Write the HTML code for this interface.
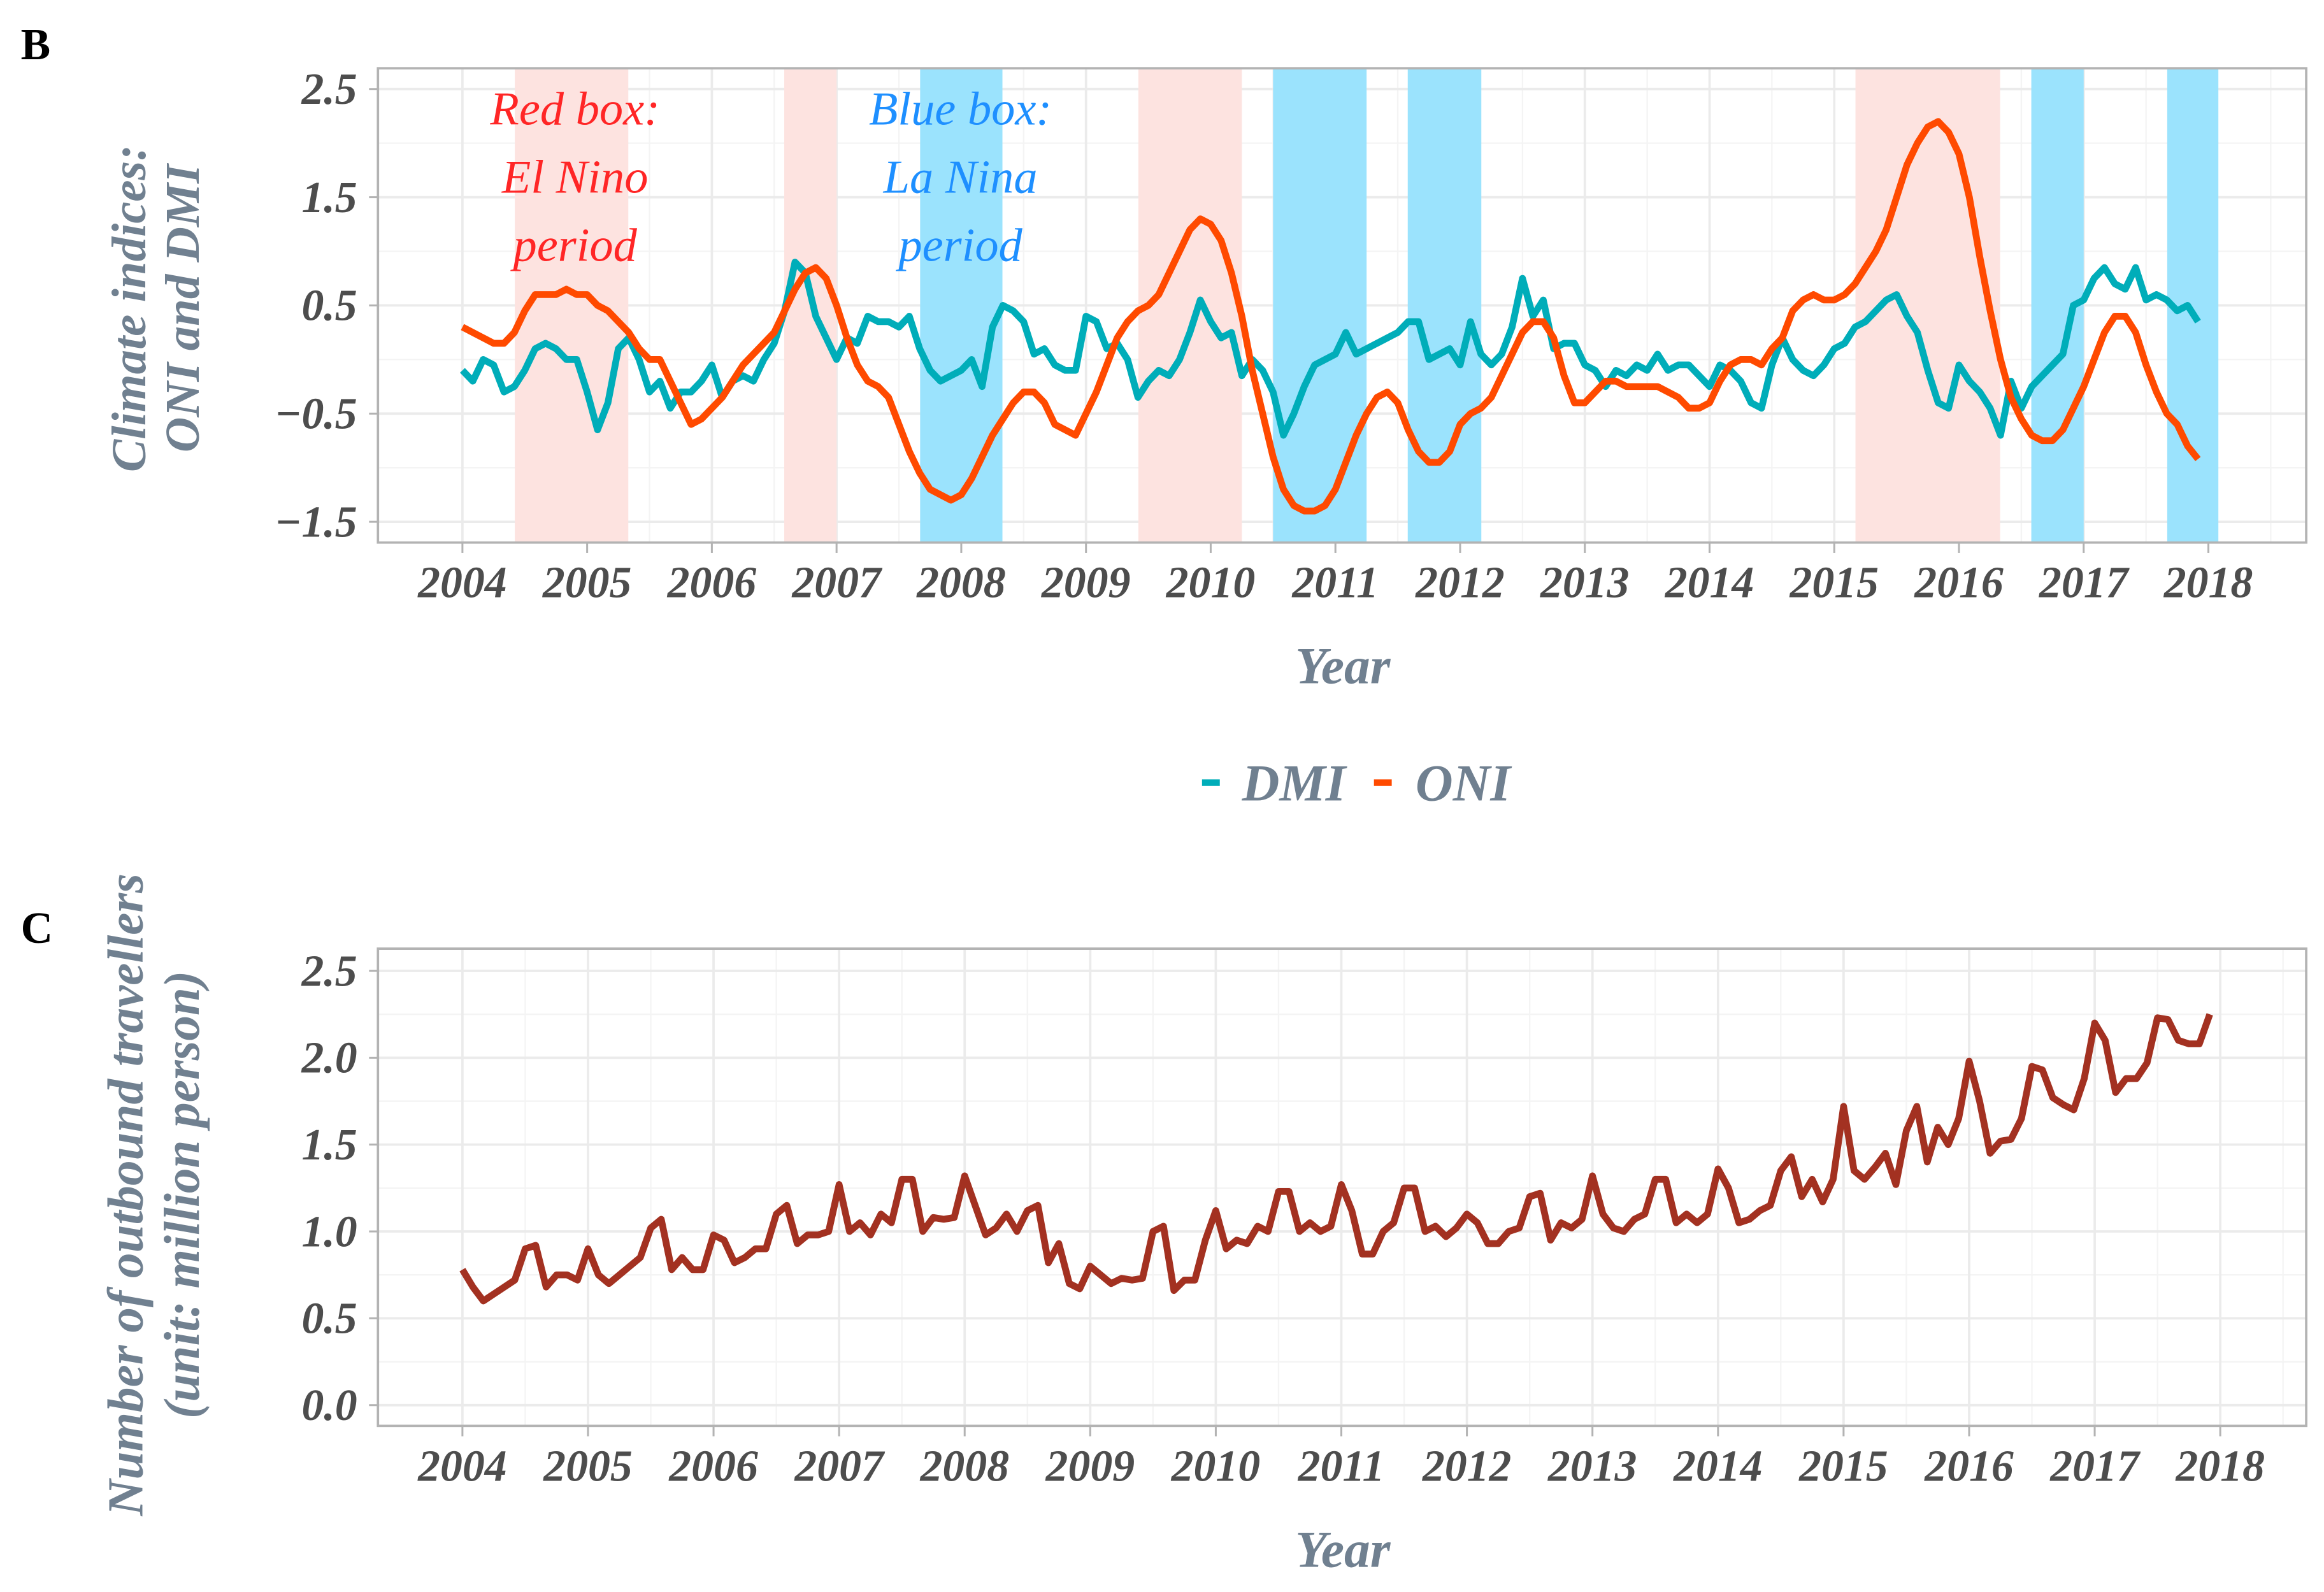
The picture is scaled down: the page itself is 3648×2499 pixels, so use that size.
<!DOCTYPE html>
<html><head><meta charset="utf-8"><style>
html,body{margin:0;padding:0;background:#fff;}
svg{display:block;}
text{font-family:"Liberation Serif",serif;}
</style></head><body>
<svg id="fig" xmlns="http://www.w3.org/2000/svg" width="3648" height="2499" viewBox="0 0 1568 1074">
<rect x="0" y="0" width="1568" height="1074" fill="#fff"/>
<text x="14" y="40" font-size="30" font-weight="bold">B</text>
<text x="14" y="636" font-size="30" font-weight="bold">C</text>
<g id="pb"></g>
<g id="pc"></g>
</svg>
<script>
const years = [2004,2005,2006,2007,2008,2009,2010,2011,2012,2013,2014,2015,2016,2017,2018];
const climateTicks = [2.5,1.5,0.5,-0.5,-1.5];
const travTicks = [2.5,2.0,1.5,1.0,0.5,0.0];
const elNinoPeriods = [[2004.42,2005.33],[2006.58,2007.0],[2009.42,2010.25],[2015.17,2016.33]];
const laNinaPeriods = [[2007.67,2008.33],[2010.5,2011.25],[2011.58,2012.17],[2016.58,2017.0],[2017.67,2018.08]];
const oni = [0.3,0.25,0.2,0.15,0.15,0.25,0.45,0.6,0.6,0.6,0.65,0.6,
0.6,0.5,0.45,0.35,0.25,0.1,0.0,0.0,-0.2,-0.4,-0.6,-0.55,
-0.45,-0.35,-0.2,-0.05,0.05,0.15,0.25,0.45,0.65,0.8,0.85,0.75,
0.5,0.2,-0.05,-0.2,-0.25,-0.35,-0.6,-0.85,-1.05,-1.2,-1.25,-1.3,
-1.25,-1.1,-0.9,-0.7,-0.55,-0.4,-0.3,-0.3,-0.4,-0.6,-0.65,-0.7,
-0.5,-0.3,-0.05,0.2,0.35,0.45,0.5,0.6,0.8,1.0,1.2,1.3,
1.25,1.1,0.8,0.4,-0.1,-0.5,-0.9,-1.2,-1.35,-1.4,-1.4,-1.35,
-1.2,-0.95,-0.7,-0.5,-0.35,-0.3,-0.4,-0.65,-0.85,-0.95,-0.95,-0.85,
-0.6,-0.5,-0.45,-0.35,-0.15,0.05,0.25,0.35,0.35,0.2,-0.15,-0.4,
-0.4,-0.3,-0.2,-0.2,-0.25,-0.25,-0.25,-0.25,-0.3,-0.35,-0.45,-0.45,
-0.4,-0.2,-0.05,0.0,0.0,-0.05,0.1,0.2,0.45,0.55,0.6,0.55,
0.55,0.6,0.7,0.85,1.0,1.2,1.5,1.8,2.0,2.15,2.2,2.1,
1.9,1.5,0.95,0.45,0.0,-0.35,-0.55,-0.7,-0.75,-0.75,-0.65,-0.45,
-0.25,0.0,0.25,0.4,0.4,0.25,-0.05,-0.3,-0.5,-0.6,-0.8,-0.92];
const dmi = [-0.1,-0.2,0.0,-0.05,-0.3,-0.25,-0.1,0.1,0.15,0.1,0.0,0.0,
-0.3,-0.65,-0.4,0.1,0.2,0.0,-0.3,-0.2,-0.45,-0.3,-0.3,-0.2,
-0.05,-0.35,-0.2,-0.15,-0.2,0.0,0.15,0.45,0.9,0.8,0.4,0.2,
0.0,0.2,0.15,0.4,0.35,0.35,0.3,0.4,0.1,-0.1,-0.2,-0.15,
-0.1,0.0,-0.25,0.3,0.5,0.45,0.35,0.05,0.1,-0.05,-0.1,-0.1,
0.4,0.35,0.1,0.15,0.0,-0.35,-0.2,-0.1,-0.15,0.0,0.25,0.55,
0.35,0.2,0.25,-0.15,0.0,-0.1,-0.3,-0.7,-0.5,-0.25,-0.05,0.0,
0.05,0.25,0.05,0.1,0.15,0.2,0.25,0.35,0.35,0.0,0.05,0.1,
-0.05,0.35,0.05,-0.05,0.05,0.3,0.75,0.4,0.55,0.1,0.15,0.15,
-0.05,-0.1,-0.25,-0.1,-0.15,-0.05,-0.1,0.05,-0.1,-0.05,-0.05,-0.15,
-0.25,-0.05,-0.1,-0.2,-0.4,-0.45,-0.05,0.2,0.0,-0.1,-0.15,-0.05,
0.1,0.15,0.3,0.35,0.45,0.55,0.6,0.4,0.25,-0.1,-0.4,-0.45,
-0.05,-0.2,-0.3,-0.45,-0.7,-0.2,-0.45,-0.25,-0.15,-0.05,0.05,0.5,
0.55,0.75,0.85,0.7,0.65,0.85,0.55,0.6,0.55,0.45,0.5,0.35];
const travellers = [0.78,0.68,0.6,0.64,0.68,0.72,0.9,0.92,0.68,0.75,0.75,0.72,
0.9,0.75,0.7,0.75,0.8,0.85,1.02,1.07,0.78,0.85,0.78,0.78,
0.98,0.95,0.82,0.85,0.9,0.9,1.1,1.15,0.93,0.98,0.98,1.0,
1.27,1.0,1.05,0.98,1.1,1.05,1.3,1.3,1.0,1.08,1.07,1.08,
1.32,1.15,0.98,1.02,1.1,1.0,1.12,1.15,0.82,0.93,0.7,0.67,
0.8,0.75,0.7,0.73,0.72,0.73,1.0,1.03,0.66,0.72,0.72,0.95,
1.12,0.9,0.95,0.93,1.03,1.0,1.23,1.23,1.0,1.05,1.0,1.03,
1.27,1.12,0.87,0.87,1.0,1.05,1.25,1.25,1.0,1.03,0.97,1.02,
1.1,1.05,0.93,0.93,1.0,1.02,1.2,1.22,0.95,1.05,1.02,1.07,
1.32,1.1,1.02,1.0,1.07,1.1,1.3,1.3,1.05,1.1,1.05,1.1,
1.36,1.25,1.05,1.07,1.12,1.15,1.35,1.43,1.2,1.3,1.17,1.3,
1.72,1.35,1.3,1.37,1.45,1.27,1.58,1.72,1.4,1.6,1.5,1.65,
1.98,1.75,1.45,1.52,1.53,1.65,1.95,1.93,1.77,1.73,1.7,1.88,
2.2,2.1,1.8,1.88,1.88,1.97,2.23,2.22,2.1,2.08,2.08,2.25];

const NS='http://www.w3.org/2000/svg';
function mk(parent, tag, attrs){const e=document.createElementNS(NS,tag);for(const k in attrs)e.setAttribute(k,attrs[k]);parent.appendChild(e);return e;}

const B={l:255,t:46,r:1556,b:366};
const bx=v=>312+(v-2004)*(1490-312)/14;
const by=v=>60+(2.5-v)*73;
const C={l:255,t:640,r:1556,b:962};
const cx=v=>312+(v-2004)*(1498-312)/14;
const cy=v=>948-v*117.2;

function panel(g,P,xf,yf,ticks,minorY,labFmt){
  mk(g,'rect',{x:P.l,y:P.t,width:P.r-P.l,height:P.b-P.t,fill:'#fff'});
  for(const v of minorY){mk(g,'line',{x1:P.l,x2:P.r,y1:yf(v),y2:yf(v),stroke:'#f4f4f4','stroke-width':1});}
  for(let i=0;i<years.length;i++){const xm=xf(years[i]+0.5);if(xm<P.r){mk(g,'line',{x1:xm,x2:xm,y1:P.t,y2:P.b,stroke:'#f4f4f4','stroke-width':1});}}
  for(const v of ticks){
    const l=mk(g,'line',{x1:P.l,x2:P.r,y1:yf(v),y2:yf(v),stroke:'#ebebeb','stroke-width':1.6});
    
    
    mk(g,'line',{x1:P.l-6,x2:P.l,y1:yf(v),y2:yf(v),stroke:'#b3b3b3','stroke-width':1.3});
    const t=mk(g,'text',{x:P.l-14,y:yf(v)+10,'text-anchor':'end','font-size':30,'font-weight':'bold','font-style':'italic',fill:'#4d4d4d'});
    t.textContent=labFmt(v);
    
    
  }
  for(const yv of years){
    const x=xf(yv);
    mk(g,'line',{x1:x,x2:x,y1:P.t,y2:P.b,stroke:'#ebebeb','stroke-width':1.6});
    mk(g,'line',{x1:x,x2:x,y1:P.b,y2:P.b+7,stroke:'#b3b3b3','stroke-width':1.3});
    const t=mk(g,'text',{x:x,y:P.b+37,'text-anchor':'middle','font-size':30,'font-weight':'bold','font-style':'italic',fill:'#4d4d4d'});
    t.textContent=yv;
    
    
  }
}
function line(g,arr,xf,yf,color,name){
  let d='';arr.forEach((v,i)=>{d+=(i?'L':'M')+xf(2004+i/12).toFixed(2)+','+yf(v).toFixed(2);});
  const p=mk(g,'path',{d:d,fill:'none',stroke:color,'stroke-width':4.6,'stroke-linejoin':'round'});
  
  
}
const TS={'font-size':35,'font-weight':'bold','font-style':'italic',fill:'#708090'};
function ttl(g,attrs,txt,name){const t=mk(g,'text',Object.assign({},TS,attrs));t.textContent=txt;return t;}

// ---- Panel B
const gb=document.getElementById('pb');
panel(gb,B,bx,by,climateTicks,[2.0,1.0,0.0,-1.0],v=>v.toFixed(1).replace('-','\u2212'));
for(const p of elNinoPeriods){
  const r=mk(gb,'rect',{x:bx(p[0]),y:B.t,width:bx(p[1])-bx(p[0]),height:B.b-B.t,fill:'#fde3e0'});
  
  
}
for(const p of laNinaPeriods){
  const r=mk(gb,'rect',{x:bx(p[0]),y:B.t,width:bx(p[1])-bx(p[0]),height:B.b-B.t,fill:'#9be3fd'});
  
  
}
line(gb,dmi,bx,by,'#00adb9','dmi-line');
line(gb,oni,bx,by,'#ff4a00','oni-line');
mk(gb,'rect',{x:B.l,y:B.t,width:B.r-B.l,height:B.b-B.t,fill:'none',stroke:'#b3b3b3','stroke-width':1.6});
[['Red box:',84],['El Nino',130],['period',176]].forEach(a=>{const t=mk(gb,'text',{x:388,y:a[1],'text-anchor':'middle','font-size':32,'font-style':'italic',fill:'#ff2626'});t.textContent=a[0];});
[['Blue box:',84],['La Nina',130],['period',176]].forEach(a=>{const t=mk(gb,'text',{x:648,y:a[1],'text-anchor':'middle','font-size':32,'font-style':'italic',fill:'#1e8fff'});t.textContent=a[0];});
ttl(gb,{x:906,y:461,'text-anchor':'middle'},'Year','x-axis-title');
ttl(gb,{transform:'translate(98,208) rotate(-90)','text-anchor':'middle','font-size':33},'Climate indices:','y-axis-title');
ttl(gb,{transform:'translate(134,208) rotate(-90)','text-anchor':'middle','font-size':33},'ONI and DMI','y-axis-title-line2');
let lg=mk(gb,'g',{});


mk(lg,'line',{x1:811,x2:823,y1:528,y2:528,stroke:'#00adb9','stroke-width':4.5});
ttl(lg,{x:838,y:540},'DMI','legend-entry-dmi');
mk(lg,'line',{x1:927,x2:939,y1:528,y2:528,stroke:'#ff4a00','stroke-width':4.5});
ttl(lg,{x:955,y:540},'ONI','legend-entry-oni');

// ---- Panel C
const gc=document.getElementById('pc');
panel(gc,C,cx,cy,travTicks,[2.25,1.75,1.25,0.75,0.25],v=>v.toFixed(1));
line(gc,travellers,cx,cy,'#a33121','travellers-line');
mk(gc,'rect',{x:C.l,y:C.t,width:C.r-C.l,height:C.b-C.t,fill:'none',stroke:'#b3b3b3','stroke-width':1.6});
ttl(gc,{x:906,y:1057,'text-anchor':'middle'},'Year','x-axis-title-c');
ttl(gc,{transform:'translate(96,806) rotate(-90)','text-anchor':'middle','font-size':34},'Number of outbound travellers','y-axis-title-c');
ttl(gc,{transform:'translate(134,806) rotate(-90)','text-anchor':'middle','font-size':34},'(unit: million person)','y-axis-title-c-line2');
</script>
</body></html>
